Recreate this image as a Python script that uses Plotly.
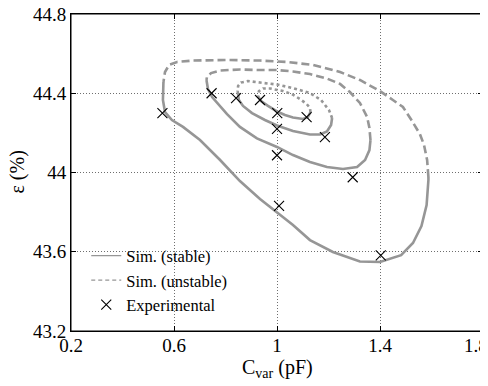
import plotly.graph_objects as go

# ---------------- data ----------------
# Experimental points
exp_x = [0.555, 0.746, 0.841, 0.934, 1.001, 1.115, 1.000, 1.186, 1.000, 1.294, 1.008, 1.403]
exp_y = [44.300, 44.400, 44.375, 44.366, 44.300, 44.280, 44.220, 44.178, 44.087, 43.976, 43.832, 43.582]

# Curve 1 (innermost)
c1_stable_x = [0.926, 0.938, 0.965, 1.000, 1.031, 1.062, 1.101, 1.120, 1.130]
c1_stable_y = [44.386, 44.361, 44.336, 44.308, 44.290, 44.278, 44.270, 44.280, 44.305]
c1_unstable_x = [1.130, 1.128, 1.115, 1.089, 1.058, 1.023, 0.973, 0.946, 0.930, 0.926]
c1_unstable_y = [44.305, 44.326, 44.346, 44.371, 44.396, 44.411, 44.424, 44.424, 44.411, 44.386]

# Curve 2
c2_stable_x = [0.847, 0.852, 0.868, 0.903, 0.953, 1.000, 1.062, 1.128, 1.167, 1.194, 1.210, 1.214]
c2_stable_y = [44.411, 44.366, 44.336, 44.300, 44.265, 44.237, 44.209, 44.192, 44.192, 44.207, 44.240, 44.275]
c2_unstable_x = [1.214, 1.202, 1.171, 1.128, 1.062, 1.000, 0.934, 0.887, 0.860, 0.849, 0.847]
c2_unstable_y = [44.275, 44.315, 44.366, 44.401, 44.426, 44.444, 44.454, 44.462, 44.454, 44.437, 44.411]

# Curve 3
c3_stable_x = [0.726, 0.732, 0.748, 0.779, 0.806, 0.856, 0.922, 1.000, 1.062, 1.128, 1.194, 1.256, 1.311, 1.342, 1.359, 1.363]
c3_stable_y = [44.467, 44.421, 44.381, 44.336, 44.295, 44.230, 44.172, 44.129, 44.088, 44.053, 44.028, 44.018, 44.028, 44.063, 44.113, 44.164]
c3_unstable_x = [1.363, 1.359, 1.350, 1.322, 1.283, 1.245, 1.194, 1.128, 1.062, 1.000, 0.934, 0.856, 0.779, 0.744, 0.728, 0.726]
c3_unstable_y = [44.164, 44.225, 44.280, 44.351, 44.406, 44.447, 44.474, 44.497, 44.510, 44.517, 44.517, 44.520, 44.515, 44.502, 44.482, 44.467]

# Curve 4 (outermost)
c4_stable_x = [0.559, 0.557, 0.565, 0.592, 0.635, 0.701, 0.779, 0.856, 0.934, 1.000, 1.062, 1.128, 1.217, 1.322, 1.400, 1.482, 1.528, 1.561, 1.581, 1.588, 1.588]
c4_stable_y = [44.457, 44.366, 44.305, 44.265, 44.230, 44.164, 44.063, 43.957, 43.866, 43.800, 43.735, 43.659, 43.599, 43.551, 43.548, 43.583, 43.644, 43.730, 43.836, 43.962, 43.977]
c4_unstable_x = [1.588, 1.583, 1.571, 1.555, 1.522, 1.489, 1.450, 1.400, 1.322, 1.245, 1.140, 1.039, 0.934, 0.806, 0.674, 0.612, 0.581, 0.565, 0.559]
c4_unstable_y = [43.977, 44.063, 44.139, 44.194, 44.265, 44.331, 44.366, 44.411, 44.467, 44.507, 44.543, 44.558, 44.565, 44.568, 44.565, 44.558, 44.543, 44.507, 44.457]

x_ticks = [0.2, 0.6, 1.0, 1.4, 1.8]
x_tick_labels = ["0.2", "0.6", "1", "1.4", "1.8&nbsp;&nbsp;&nbsp;"]
y_ticks = [43.2, 43.6, 44.0, 44.4, 44.8]
y_tick_labels = ["43.2", "43.6", "44", "44.4", "44.8"]
x_title = "C<sub>var</sub> (pF)"
y_title = "ε (%)"

# ---------------- figure ----------------
GRAY = "rgb(150,150,150)"
FONT = "Liberation Serif, serif"
LW = 2.6

fig = go.Figure()

curves = [
    (c1_stable_x, c1_stable_y, c1_unstable_x, c1_unstable_y, "3px,3px"),
    (c2_stable_x, c2_stable_y, c2_unstable_x, c2_unstable_y, "3px,3px"),
    (c3_stable_x, c3_stable_y, c3_unstable_x, c3_unstable_y, "8px,4px"),
    (c4_stable_x, c4_stable_y, c4_unstable_x, c4_unstable_y, "8px,4px"),
]
for sx, sy, ux, uy, dash in curves:
    fig.add_trace(go.Scatter(x=sx, y=sy, mode="lines", showlegend=False,
                             line=dict(color=GRAY, width=LW), hoverinfo="skip"))
    fig.add_trace(go.Scatter(x=ux, y=uy, mode="lines", showlegend=False,
                             line=dict(color=GRAY, width=LW, dash=dash), hoverinfo="skip"))

fig.add_trace(go.Scatter(x=exp_x, y=exp_y, mode="markers", showlegend=False,
                         marker=dict(symbol="x-thin", size=10, color="black",
                                     line=dict(color="black", width=1.1))))

# legend entries
fig.add_trace(go.Scatter(x=[None], y=[None], mode="lines", name="Sim. (stable)",
                         legendgroup="a", line=dict(color=GRAY, width=1.2)))
fig.add_trace(go.Scatter(x=[None], y=[None], mode="lines", name="Sim. (unstable)",
                         legendgroup="b", line=dict(color=GRAY, width=1.2, dash="4px,3px")))
fig.add_trace(go.Scatter(x=[None], y=[None], mode="markers", name="Experimental",
                         legendgroup="c",
                         marker=dict(symbol="x-thin", size=10, color="black",
                                     line=dict(color="black", width=1.1))))

axis_common = dict(
    showgrid=True, gridcolor="rgb(110,110,110)", gridwidth=1, griddash="1px,2px",
    showline=True, linecolor="black", linewidth=1, mirror="ticks",
    ticks="inside", ticklen=5, tickcolor="black", tickwidth=1,
    zeroline=False, automargin=False, ticklabeloverflow="allow",
    tickfont=dict(family=FONT, size=19, color="black"),
)

fig.update_xaxes(range=[0.2, 1.8], tickvals=x_ticks, ticktext=x_tick_labels,
                 ticklabelstandoff=-3, **axis_common)
fig.update_yaxes(range=[43.2, 44.8], tickvals=y_ticks, ticktext=y_tick_labels, **axis_common)

# axis titles
fig.add_annotation(text=x_title, xref="paper", yref="paper", x=0.5, y=-0.118,
                   xanchor="center", yanchor="middle", showarrow=False,
                   font=dict(family=FONT, size=20, color="black"))
fig.add_annotation(text=y_title, xref="paper", yref="paper", x=-0.131, y=0.5,
                   xanchor="center", yanchor="middle", showarrow=False, textangle=-90,
                   font=dict(family=FONT, size=20, color="black"))

# plot frame
fig.add_shape(type="rect", xref="paper", yref="paper", x0=0, y0=0, x1=1, y1=1,
              line=dict(color="black", width=1), layer="above")

# the page adds an 8px body margin, so the figure is made 8px smaller
fig.update_layout(
    width=480, height=378,
    margin=dict(l=63, r=5, t=6, b=55),
    paper_bgcolor="white", plot_bgcolor="white",
    font=dict(family=FONT, size=17, color="black"),
    showlegend=True,
    legend=dict(x=0.037, y=0.292, xanchor="left", yanchor="top",
                bgcolor="rgba(255,255,255,0)", borderwidth=0,
                font=dict(family=FONT, size=16.5, color="black"),
                traceorder="grouped", tracegroupgap=0, itemwidth=30),
)

fig.write_html("out.html")
